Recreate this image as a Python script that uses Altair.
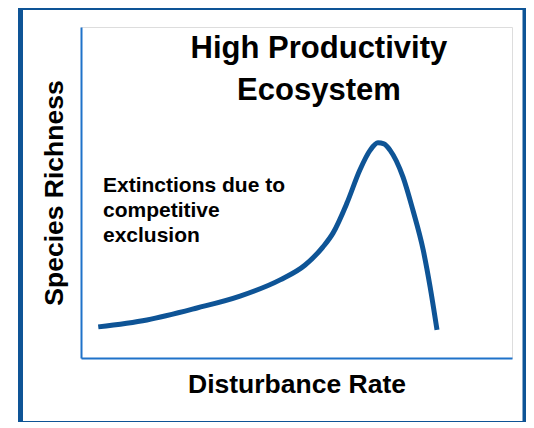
import altair as alt
import pandas as pd

# Curve (arbitrary 0-100 units on both axes)
disturbance = [4.0, 15.3, 26.9, 36.9, 46.2, 52.0, 56.1, 58.5, 61.7, 64.7, 67.1, 68.9, 70.3, 71.7, 74.7, 77.0, 79.4, 81.0, 82.6]
richness = [9.4, 11.5, 15.1, 18.7, 23.6, 28.1, 33.5, 37.8, 46.8, 56.8, 62.8, 65.0, 64.7, 62.8, 54.7, 44.7, 32.6, 21.5, 8.5]

title_lines = ["High Productivity", "Ecosystem"]
note_lines = ["Extinctions due to", "competitive", "exclusion"]
x_title = "Disturbance Rate"
y_title = "Species Richness"

FONT = "Liberation Sans"
DARK = "#0E5496"
AXIS = "#1F72C9"

curve = pd.DataFrame({"x": disturbance, "y": richness})
xs = alt.Scale(domain=[0, 100], nice=False, zero=False)
ys = alt.Scale(domain=[0, 100], nice=False, zero=False)

frame = alt.Chart(pd.DataFrame({"k": [0]})).mark_rect(
    fill="transparent", stroke=DARK, strokeWidth=5
).encode(
    x=alt.value(-60.5), x2=alt.value(444), y=alt.value(-19.5), y2=alt.value(396.5)
)

line = alt.Chart(curve).mark_line(
    color=DARK, strokeWidth=5, interpolate="monotone", strokeCap="butt"
).encode(
    x=alt.X("x:Q", scale=xs, axis=alt.Axis(
        title=x_title, labels=False, ticks=False, grid=False,
        domainColor=AXIS, domainWidth=2, titleFont=FONT, titleFontSize=26.5,
        titleFontWeight="bold", titleColor="black", titlePadding=13)),
    y=alt.Y("y:Q", scale=ys, axis=alt.Axis(
        title=y_title, labels=False, ticks=False, grid=False,
        domainColor=AXIS, domainWidth=2, titleFont=FONT, titleFontSize=26.5,
        titleFontWeight="bold", titleColor="black", titlePadding=13)),
)

title_df = pd.DataFrame({"x": [55.2], "y": [90.6], "t": ["\n".join(title_lines)]})
title = alt.Chart(title_df).mark_text(
    font=FONT, fontSize=31, fontWeight="bold", color="black",
    align="center", baseline="alphabetic", lineBreak="\n", lineHeight=42
).encode(x=alt.X("x:Q", scale=xs), y=alt.Y("y:Q", scale=ys), text="t:N")

note_df = pd.DataFrame({"x": [5.1], "y": [50.2], "t": ["\n".join(note_lines)]})
note = alt.Chart(note_df).mark_text(
    font=FONT, fontSize=21, fontWeight="bold", color="black",
    align="left", baseline="alphabetic", lineBreak="\n", lineHeight=25
).encode(x=alt.X("x:Q", scale=xs), y=alt.Y("y:Q", scale=ys), text="t:N")

chart = alt.layer(frame, line, title, note).properties(
    width=431, height=331, autosize="none",
    padding={"left": 73, "top": 19, "right": 14, "bottom": 64},
).configure_view(stroke="transparent").configure(background="white")

chart.save("out.html", embed_options={"renderer": "svg", "actions": False})
